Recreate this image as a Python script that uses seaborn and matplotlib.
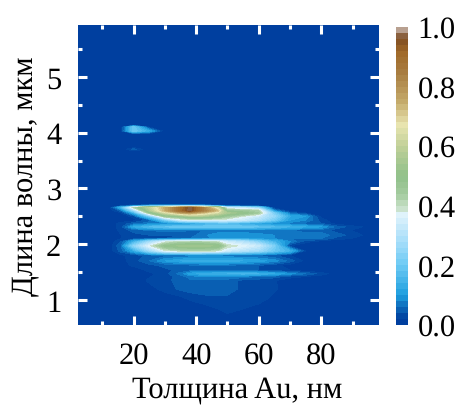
import matplotlib
matplotlib.use("Agg")
import matplotlib.pyplot as plt
import numpy as np
import seaborn as sns
from matplotlib.colors import LinearSegmentedColormap
from matplotlib.ticker import MultipleLocator

# values
thickness = [2, 12, 16, 20, 25, 30, 35, 38, 42, 47, 50, 55, 60, 65, 70, 75, 80, 85, 98.4]
wavelength = [0.55, 0.84, 1.02, 1.2, 1.35, 1.42, 1.47, 1.53, 1.62, 1.7, 1.8, 1.88, 1.97, 2.05,
              2.1, 2.16, 2.25, 2.31, 2.37, 2.43, 2.5, 2.56, 2.6, 2.66, 2.69, 2.72,
              3.65, 3.7, 3.75, 3.97, 4.03, 4.1, 4.14, 5.93]
absorb = [
    [0, 0, 0, 0, 0, 0, 0, 0, 0, 0, 0, 0, 0, 0, 0, 0, 0, 0, 0],
    [0, 0, 0, 0, 0, 0, 0, 0, .01, .02, .028, .02, .01, 0, 0, 0, 0, 0, 0],
    [0, 0, 0, 0, 0, .005, .012, .024, .03, .034, .034, .032, .03, .012, 0, 0, 0, 0, 0],
    [0, 0, 0, 0, .012, .028, .045, .05, .055, .055, .05, .035, .03, .024, .005, 0, 0, 0, 0],
    [0, 0, 0, .005, .024, .032, .05, .055, .056, .054, .05, .035, .03, .022, .005, 0, 0, 0, 0],
    [0, 0, 0, .005, .018, .03, .05, .07, .08, .08, .08, .07, .06, .05, .03, .02, .01, 0, 0],
    [0, 0, 0, 0, .015, .03, .07, .11, .13, .14, .14, .15, .14, .12, .09, .06, .03, .008, 0],
    [0, 0, 0, .005, .025, .035, .045, .05, .06, .06, .06, .05, .04, .03, .02, .005, 0, 0, 0],
    [0, 0, .01, .025, .035, .045, .05, .055, .06, .06, .06, .05, .04, .025, .01, 0, 0, 0, 0],
    [0, 0, .012, .03, .06, .10, .12, .13, .13, .13, .13, .12, .11, .09, .05, .012, 0, 0, 0],
    [0, 0, .015, .03, .045, .05, .055, .06, .06, .06, .06, .06, .05, .04, .02, 0, 0, 0, 0],
    [0, .003, .05, .12, .26, .37, .40, .41, .41, .39, .34, .30, .27, .20, .14, .02, 0, 0, 0],
    [0, .003, .06, .24, .37, .49, .53, .54, .54, .51, .40, .37, .33, .22, .02, 0, 0, 0, 0],
    [0, 0, .04, .13, .26, .36, .40, .40, .40, .38, .33, .29, .22, .14, .08, .03, .01, 0, 0],
    [0, 0, .02, .03, .04, .04, .045, .06, .07, .09, .10, .10, .09, .08, .06, .06, .06, .03, 0],
    [0, 0, .02, .03, .04, .04, .04, .05, .07, .10, .10, .10, .09, .08, .07, .07, .07, .05, 0],
    [0, .005, .025, .05, .06, .07, .07, .06, .06, .06, .06, .06, .06, .06, .06, .05, .05, .03, 0],
    [0, .005, .03, .12, .16, .18, .20, .20, .20, .20, .20, .20, .18, .16, .14, .12, .10, .05, 0],
    [0, .005, .03, .05, .07, .08, .08, .09, .12, .15, .15, .12, .10, .08, .07, .05, .04, .01, 0],
    [0, 0, 0, .01, .05, .20, .33, .35, .35, .35, .35, .33, .28, .20, .10, .08, .03, 0, 0],
    [0, 0, 0, .03, .20, .46, .50, .55, .55, .50, .45, .38, .33, .25, .12, .10, .01, 0, 0],
    [0, 0, .02, .12, .45, .62, .75, .78, .72, .62, .55, .50, .44, .20, .05, .02, 0, 0, 0],
    [0, 0, .05, .25, .55, .75, .90, .98, .85, .72, .45, .45, .42, .08, .01, 0, 0, 0, 0],
    [0, 0, .15, .42, .60, .75, .90, .97, .85, .60, .32, .30, .22, 0, 0, 0, 0, 0, 0],
    [0, 0, .02, .05, .10, .12, .13, .13, .12, .05, 0, 0, 0, 0, 0, 0, 0, 0, 0],
    [0, 0, 0, 0, 0, 0, 0, 0, 0, 0, 0, 0, 0, 0, 0, 0, 0, 0, 0],
    [0, 0, 0, 0, 0, 0, 0, 0, 0, 0, 0, 0, 0, 0, 0, 0, 0, 0, 0],
    [0, 0, 0, .05, 0, 0, 0, 0, 0, 0, 0, 0, 0, 0, 0, 0, 0, 0, 0],
    [0, 0, 0, 0, 0, 0, 0, 0, 0, 0, 0, 0, 0, 0, 0, 0, 0, 0, 0],
    [0, 0, 0, 0, 0, 0, 0, 0, 0, 0, 0, 0, 0, 0, 0, 0, 0, 0, 0],
    [0, 0, .02, .20, .12, 0, 0, 0, 0, 0, 0, 0, 0, 0, 0, 0, 0, 0, 0],
    [0, 0, .01, .20, .02, 0, 0, 0, 0, 0, 0, 0, 0, 0, 0, 0, 0, 0, 0],
    [0, 0, 0, 0, 0, 0, 0, 0, 0, 0, 0, 0, 0, 0, 0, 0, 0, 0, 0],
    [0, 0, 0, 0, 0, 0, 0, 0, 0, 0, 0, 0, 0, 0, 0, 0, 0, 0, 0],
]

# colorbar stops
stops = [0.0, 0.02, 0.05, 0.1, 0.2, 0.3, 0.37, 0.39, 0.44, 0.5, 0.6, 0.67, 0.74, 0.85, 0.92, 0.97, 0.98, 1.0]
stop_colors = ["#003f9f", "#003f9f", "#0a62b5", "#1e9fdf", "#6fcbf5", "#b3e2fa", "#e0f3fb", "#c8e0c8",
               "#a4cb9f", "#90c08a", "#c0d098", "#e8e4b0", "#c8b070", "#a87c40", "#a06828",
               "#7a4a22", "#b8a090", "#b8a090"]

sns.set_theme(style="ticks")
plt.rcParams["font.family"] = "Liberation Serif"
plt.rcParams["text.color"] = "black"
plt.rcParams["axes.labelcolor"] = "black"
plt.rcParams["xtick.labelcolor"] = "black"
plt.rcParams["ytick.labelcolor"] = "black"
plt.rcParams["axes.axisbelow"] = False
plt.rcParams["text.hinting"] = "none"

cmap = LinearSegmentedColormap.from_list("absorb", list(zip(stops, stop_colors)), N=256)
levels = np.linspace(0, 1, 51)

fig = plt.figure(figsize=(4.62, 4.06), dpi=100)
ax = fig.add_axes([78 / 462, 1 - 326 / 406, 301 / 462, 300 / 406])
cax = fig.add_axes([396 / 462, 1 - 326 / 406, 12 / 462, 298 / 406])

cs = ax.contourf(thickness, wavelength, np.array(absorb), levels=levels, cmap=cmap, vmin=0, vmax=1)
ax.set_xlim(2.24, 98.4)
ax.set_ylim(0.55, 5.93)
ax.xaxis.set_major_locator(MultipleLocator(20))
ax.xaxis.set_minor_locator(MultipleLocator(10))
ax.yaxis.set_major_locator(MultipleLocator(1))
ax.yaxis.set_minor_locator(MultipleLocator(0.5))
ax.tick_params(which="major", direction="in", length=6.5, width=2.2, color="white",
               top=True, right=True, labelsize=22, pad=12)
ax.tick_params(which="minor", direction="in", length=2.7, width=2.2, color="white",
               top=True, right=True)
for side in ax.spines.values():
    side.set_visible(False)
ax.set_xlabel("Толщина Au, нм", fontsize=22, labelpad=4, x=0.53)
ax.set_ylabel("Длина волны, мкм", fontsize=22, labelpad=5)

cb = fig.colorbar(cs, cax=cax, ticks=[0, 0.2, 0.4, 0.6, 0.8, 1.0])
cb.ax.tick_params(length=0, labelsize=22, pad=7)
cb.ax.set_yticklabels(["0.0", "0.2", "0.4", "0.6", "0.8", "1.0"])
cb.outline.set_visible(False)

fig.savefig("out.png", dpi=100)
